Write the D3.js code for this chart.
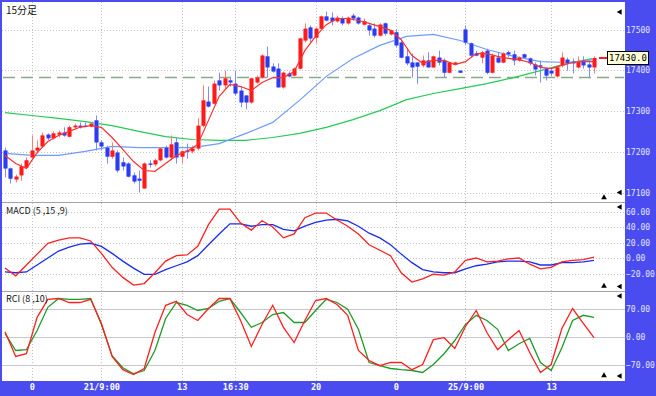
<!DOCTYPE html>
<html><head><meta charset="utf-8">
<script src="https://cdn.jsdelivr.net/npm/d3@7"></script>
<style>body{margin:0;background:#fff;}svg{display:block;}</style>
</head><body><svg id="c" width="656" height="396"></svg>
<script>
// ---- data ----
const opens  = [17203,17159,17132,17142,17161,17186,17203,17213,17242,17233,17242,17247,17237,17260,17264,17264,17262,17277,17223,17210,17188,17198,17174,17171,17142,17134,17110,17171,17169,17179,17210,17186,17223,17188,17203,17201,17208,17264,17323,17318,17375,17363,17375,17367,17350,17338,17321,17370,17382,17434,17409,17404,17358,17392,17387,17404,17473,17505,17480,17502,17532,17529,17520,17527,17515,17534,17529,17512,17510,17502,17485,17515,17488,17493,17468,17434,17419,17419,17412,17424,17407,17431,17424,17394,17414,17399,17500,17466,17441,17431,17448,17394,17431,17419,17444,17439,17424,17439,17429,17414,17412,17404,17399,17385,17412,17426,17421,17407,17424,17414,17407];
const highs  = [17210,17161,17144,17171,17186,17240,17228,17247,17245,17250,17252,17260,17264,17269,17272,17272,17272,17289,17228,17215,17223,17203,17186,17174,17149,17154,17174,17179,17183,17210,17215,17240,17235,17203,17220,17215,17282,17363,17360,17375,17394,17399,17382,17399,17360,17338,17382,17387,17439,17458,17417,17417,17397,17397,17407,17480,17515,17510,17505,17534,17544,17542,17534,17532,17532,17539,17532,17527,17515,17515,17515,17517,17500,17500,17473,17453,17441,17419,17436,17444,17436,17448,17429,17421,17421,17399,17510,17468,17448,17448,17453,17441,17444,17444,17448,17448,17434,17441,17431,17419,17424,17407,17407,17412,17444,17431,17429,17434,17434,17424,17434];
const lows   = [17137,17122,17125,17129,17159,17183,17196,17210,17228,17230,17235,17237,17235,17257,17257,17260,17260,17203,17203,17171,17183,17149,17154,17137,17122,17100,17110,17161,17164,17176,17183,17179,17171,17171,17183,17196,17203,17260,17309,17316,17350,17355,17360,17338,17309,17304,17318,17367,17380,17382,17394,17358,17355,17382,17385,17402,17468,17468,17466,17500,17520,17510,17517,17510,17512,17522,17512,17510,17485,17480,17483,17485,17485,17456,17429,17412,17382,17367,17407,17407,17407,17412,17382,17392,17412,17394,17461,17431,17434,17417,17390,17392,17417,17417,17431,17412,17421,17429,17412,17387,17370,17375,17385,17382,17407,17399,17392,17404,17404,17382,17392];
const closes = [17159,17134,17139,17164,17179,17203,17210,17240,17233,17245,17247,17240,17260,17264,17262,17262,17269,17223,17213,17188,17203,17154,17164,17139,17127,17129,17171,17169,17179,17208,17186,17218,17186,17201,17201,17208,17264,17326,17311,17367,17363,17380,17370,17343,17321,17321,17380,17382,17436,17407,17397,17358,17394,17385,17404,17478,17502,17478,17502,17532,17522,17520,17529,17515,17529,17527,17515,17520,17498,17485,17512,17490,17498,17461,17431,17417,17407,17409,17424,17407,17434,17419,17394,17419,17419,17394,17468,17436,17436,17444,17394,17436,17419,17441,17439,17424,17431,17431,17417,17402,17409,17387,17392,17407,17431,17417,17417,17421,17412,17407,17430];

// moving averages (sampled every maRedStep / maBlueStep / maGreenStep bars)
const maRedStep = 2;
const maRed = [17191,17171,17159,17198,17225,17240,17250,17260,17264,17260,17235,17206,17176,17154,17152,17171,17191,17201,17218,17277,17336,17365,17360,17350,17370,17382,17382,17397,17448,17483,17512,17527,17527,17522,17515,17507,17498,17475,17436,17417,17424,17424,17414,17421,17441,17441,17434,17429,17426,17419,17407,17404,17412,17419,17421,17421];
const maBlueStep = 5;
const maBlue = [17196,17191,17191,17201,17213,17210,17210,17210,17220,17245,17272,17326,17385,17429,17461,17483,17488,17473,17451,17434,17421,17419,17426];
const maGreenStep = 5;
const maGreen = [17296,17289,17282,17274,17264,17250,17237,17230,17228,17228,17235,17245,17260,17279,17301,17328,17343,17355,17367,17382,17399,17417,17429];
const refLevel = 17382;

// MACD (5,15,9), sampled every 2 bars
const subStep = 2;
const macdLine   = [-13,-23,-9,5,19,23,26,26,22,6,-12,-25,-35,-33,-19,-4,3,4,15,43,63,63,45,36,48,40,26,31,52,58,58,49,41,31,17,10,3,-19,-31,-27,-21,-22,-18,-3,0,-5,-4,-1,0,-8,-14,-12,-5,-3,-2,1];
const macdSignal = [-18,-19,-18,-9,0,9,14,18,19,15,6,-4,-13,-21,-21,-15,-10,-5,3,17,31,44,44,41,43,43,37,35,41,46,49,50,48,41,32,26,17,5,-6,-15,-18,-19,-19,-14,-10,-8,-5,-4,-4,-5,-9,-9,-6,-6,-5,-3];
// RCI (8,10), sampled every 2 bars
const rciShort = [12,-50,-43,48,93,95,85,85,93,33,-50,-83,-95,-80,10,78,88,55,40,70,95,95,40,-25,30,78,23,-15,40,90,95,80,53,-35,-60,-73,-65,-65,-83,-70,-8,-3,-30,25,65,10,-33,-8,15,-40,-90,-70,20,70,33,-3];
const rciLong  = [8,-35,-33,15,73,95,93,93,95,30,-48,-78,-93,-85,-35,45,85,78,65,70,88,95,60,23,35,55,60,35,35,65,93,85,68,18,-65,-73,-80,-83,-85,-90,-70,-43,-10,30,53,40,18,-35,-18,-5,-65,-85,-28,40,53,48];

const priceTicks = [17100,17200,17300,17400,17500];
const macdTicks = [60,40,20,0,-20];
const rciTicks = [70,0,-70];
const timeLabels = ["0","21/9:00","13","16:30","20","0","25/9:00","13"];
const timeLabelBars = [5,18,33,43,58,73,86,102];
const title = "15分足", macdTitle = "MACD (5 ,15 ,9)", rciTitle = "RCI (8 ,10)";

// ---- chart ----
const svg = d3.select('#c');
const n = opens.length;
const BLUE = '#4a4cf0';
const x = d3.scaleLinear().domain([0, n - 1]).range([5, 594]);
const yMain = d3.scaleLinear().domain([17100, 17500]).range([192.5, 29.5]);
const yMacd = d3.scaleLinear().domain([-20, 60]).range([273.5, 211.5]);
const yRci = d3.scaleLinear().domain([-70, 70]).range([364.5, 308.5]);

svg.append('rect').attr('width', 656).attr('height', 396).attr('fill', '#fff');

const defs = svg.append('defs');
[['cm', 2, 2, 623, 200], ['cd', 2, 203, 623, 88], ['cr', 2, 292, 623, 89]].forEach(([id, cx, cy, w, h]) => {
  defs.append('clipPath').attr('id', id).append('rect').attr('x', cx).attr('y', cy).attr('width', w).attr('height', h);
});

// vertical grid
svg.append('g').selectAll('line').data(timeLabelBars).join('line')
  .attr('x1', d => Math.round(x(d)) + 0.5).attr('x2', d => Math.round(x(d)) + 0.5)
  .attr('y1', 2).attr('y2', 381)
  .attr('stroke', '#c4c4c4').attr('stroke-dasharray', '1,2');

// horizontal grids
const hgrid = (ticks, sc, dash, col) => svg.append('g').selectAll('line').data(ticks).join('line')
  .attr('x1', 2).attr('x2', 625)
  .attr('y1', d => Math.round(sc(d)) + 0.5).attr('y2', d => Math.round(sc(d)) + 0.5)
  .attr('stroke', col).attr('stroke-dasharray', dash);
hgrid(priceTicks, yMain, '1,2', '#c4c4c4');
hgrid(macdTicks, yMacd, '1,2', '#c4c4c4');
hgrid(rciTicks, yRci, null, '#c8c8c8');

// panel separators
[202.5, 291.5].forEach(yy => svg.append('line').attr('x1', 2).attr('x2', 625).attr('y1', yy).attr('y2', yy).attr('stroke', '#a8a0b0'));

// reference dashed level
svg.append('line').attr('x1', 3).attr('x2', 624)
  .attr('y1', yMain(refLevel)).attr('y2', yMain(refLevel))
  .attr('stroke', '#8aa88a').attr('stroke-width', 1.5).attr('stroke-dasharray', '12,6');

// lines in main panel
const gMain = svg.append('g').attr('clip-path', 'url(#cm)');
const lineFrom = (arr, step, sc) => d3.line().x((d, i) => x(i * step)).y(d => sc(d))(arr);
gMain.append('path').attr('d', lineFrom(maGreen, maGreenStep, yMain)).attr('fill', 'none').attr('stroke', '#22cc55').attr('stroke-width', 1.2);
gMain.append('path').attr('d', lineFrom(maBlue, maBlueStep, yMain)).attr('fill', 'none').attr('stroke', '#6f9cff').attr('stroke-width', 1.2);

// candles
const idx = d3.range(n);
const cg = gMain.append('g');
cg.selectAll('line').data(idx).join('line')
  .attr('x1', i => Math.round(x(i)) + 0.5).attr('x2', i => Math.round(x(i)) + 0.5)
  .attr('y1', i => yMain(highs[i])).attr('y2', i => yMain(lows[i]))
  .attr('stroke', i => closes[i] > opens[i] ? '#ff7a7a' : '#7f8cff').attr('stroke-width', 1);
const bodyY = i => yMain(Math.max(opens[i], closes[i]));
const bodyH = i => Math.max(1.2, yMain(Math.min(opens[i], closes[i])) - bodyY(i));
cg.selectAll('rect.o').data(idx).join('rect').attr('class', 'o')
  .attr('x', i => Math.round(x(i)) - 2).attr('width', 5)
  .attr('y', bodyY).attr('height', bodyH)
  .attr('fill', i => closes[i] > opens[i] ? '#ff8080' : '#8890ff');
cg.selectAll('rect.b').data(idx).join('rect').attr('class', 'b')
  .attr('x', i => Math.round(x(i)) - 1).attr('width', 3)
  .attr('y', bodyY).attr('height', bodyH)
  .attr('fill', i => closes[i] > opens[i] ? '#ff1a1a' : '#2a3cf0');

gMain.append('path').attr('d', lineFrom(maRed, maRedStep, yMain)).attr('fill', 'none').attr('stroke', '#ff3030').attr('stroke-width', 1.2);

// MACD
const gD = svg.append('g').attr('clip-path', 'url(#cd)');
gD.append('path').attr('d', lineFrom(macdSignal, subStep, yMacd)).attr('fill', 'none').attr('stroke', '#1a2cf0').attr('stroke-width', 1.3);
gD.append('path').attr('d', lineFrom(macdLine, subStep, yMacd)).attr('fill', 'none').attr('stroke', '#ff2020').attr('stroke-width', 1.3);

// RCI
const gR = svg.append('g').attr('clip-path', 'url(#cr)');
gR.append('path').attr('d', lineFrom(rciLong, subStep, yRci)).attr('fill', 'none').attr('stroke', '#1f9a2a').attr('stroke-width', 1.3);
gR.append('path').attr('d', lineFrom(rciShort, subStep, yRci)).attr('fill', 'none').attr('stroke', '#ff2020').attr('stroke-width', 1.3);

// frame (blue)
svg.append('rect').attr('x', 0).attr('y', 0).attr('width', 656).attr('height', 2).attr('fill', BLUE);
svg.append('rect').attr('x', 0).attr('y', 0).attr('width', 2).attr('height', 396).attr('fill', BLUE);
svg.append('rect').attr('x', 625).attr('y', 0).attr('width', 31).attr('height', 396).attr('fill', BLUE);
svg.append('rect').attr('x', 0).attr('y', 381).attr('width', 656).attr('height', 15).attr('fill', BLUE);

// right axes
const rightAxis = (sc, ticks, fmt) => {
  const g = svg.append('g').attr('transform', 'translate(625,0)')
    .call(d3.axisRight(sc).tickValues(ticks).tickSize(0).tickPadding(1).tickFormat(fmt));
  g.select('.domain').remove();
  g.selectAll('text').attr('fill', '#e4e4ff').attr('font-family', 'DejaVu Sans Mono, monospace').attr('font-size', '8px');
};
rightAxis(yMain, priceTicks, d3.format('d'));
rightAxis(yMacd, macdTicks, d3.format('.2f'));
rightAxis(yRci, rciTicks, d3.format('.2f'));

// bottom axis
const bx = svg.append('g').attr('transform', 'translate(0,381)')
  .call(d3.axisBottom(x).tickValues(timeLabelBars).tickSize(0).tickPadding(3).tickFormat((d, i) => timeLabels[i]));
bx.select('.domain').remove();
bx.selectAll('text').attr('fill', '#ffffff').attr('font-family', 'DejaVu Sans Mono, monospace').attr('font-weight', 'bold').attr('font-size', '8.6px');

// titles
const txt = (t, tx, ty, fs) => svg.append('text').attr('x', tx).attr('y', ty).text(t)
  .attr('font-family', 'Noto Sans CJK JP, sans-serif').attr('font-size', fs).attr('fill', '#111');
txt(title, 6, 14, '10px');
txt(macdTitle, 6, 214, '9px');
txt(rciTitle, 6, 302, '9px');

// last price label
const lastY = yMain(closes[n - 1]);
svg.append('line').attr('x1', 599).attr('x2', 607).attr('y1', lastY).attr('y2', lastY).attr('stroke', '#ff2020').attr('stroke-width', 2);
svg.append('rect').attr('x', 607.5).attr('y', lastY - 6.5).attr('width', 41).attr('height', 13)
  .attr('fill', '#ffffd8').attr('stroke', '#000');
svg.append('text').attr('x', 628).attr('y', lastY + 3).attr('text-anchor', 'middle')
  .attr('font-family', 'DejaVu Sans Mono, monospace').attr('font-size', '9px').attr('fill', '#000')
  .text(d3.format('.1f')(closes[n - 1]));

// scroll markers
const tri = d3.symbol().type(d3.symbolTriangle).size(14);
[12, 192.5, 207, 286.5, 296, 376].forEach(yy =>
  svg.append('path').attr('d', tri()).attr('fill', '#000').attr('transform', `translate(620,${yy}) rotate(-90)`));
[197.5, 286, 375.5].forEach(yy =>
  svg.append('path').attr('d', tri()).attr('fill', '#000').attr('transform', `translate(604,${yy})`));
</script></body></html>
